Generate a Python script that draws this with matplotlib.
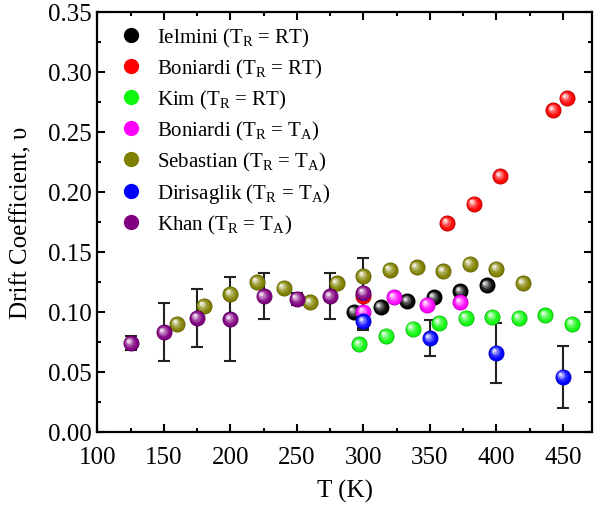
import numpy as np
import matplotlib
matplotlib.use('Agg')
import matplotlib.pyplot as plt
import matplotlib.colors as mcolors
from matplotlib.lines import Line2D
from matplotlib.transforms import offset_copy
from matplotlib.ticker import MultipleLocator, FormatStrFormatter

plt.rcParams['font.family'] = ['Liberation Serif', 'DejaVu Serif']
plt.rcParams['mathtext.fontset'] = 'custom'
plt.rcParams['mathtext.rm'] = 'Liberation Serif'

# data
ielmini_T = [293, 313, 333, 353, 373, 393]
ielmini_v = [0.100, 0.104, 0.109, 0.112, 0.117, 0.122]

boniardi_rt_T = [300, 363, 383, 403, 443, 453]
boniardi_rt_v = [0.113, 0.174, 0.190, 0.213, 0.268, 0.278]

kim_T = [297, 317, 337, 357, 377, 397, 417, 437, 457]
kim_v = [0.073, 0.080, 0.086, 0.091, 0.095, 0.096, 0.095, 0.097, 0.090]

boniardi_ta_T = [300, 323, 348, 373]
boniardi_ta_v = [0.100, 0.112, 0.106, 0.108]

sebastian_T = [160, 180, 200, 220, 240, 260, 280, 300, 320, 340, 360, 380, 400, 420]
sebastian_v = [0.090, 0.105, 0.115, 0.125, 0.120, 0.108, 0.124, 0.130, 0.135, 0.137,
               0.134, 0.140, 0.136, 0.124]

dirisaglik_T = [300, 350, 400, 450]
dirisaglik_v = [0.092, 0.078, 0.066, 0.046]
dirisaglik_err = [0.007, 0.015, 0.025, 0.026]

khan_T = [125, 150, 175, 200, 225, 250, 275, 300]
khan_v = [0.074, 0.083, 0.095, 0.094, 0.113, 0.111, 0.113, 0.116]
khan_err = [0.006, 0.024, 0.024, 0.035, 0.019, 0.005, 0.019, 0.029]

series = [
    ('Ielmini (T$_\\mathregular{R}$ = RT)', ielmini_T, ielmini_v, '#000000'),
    ('Boniardi (T$_\\mathregular{R}$ = RT)', boniardi_rt_T, boniardi_rt_v, '#ff0000'),
    ('Kim (T$_\\mathregular{R}$ = RT)', kim_T, kim_v, '#10f810'),
    ('Boniardi (T$_\\mathregular{R}$ = T$_\\mathregular{A}$)', boniardi_ta_T, boniardi_ta_v, '#ff00ff'),
    ('Sebastian (T$_\\mathregular{R}$ = T$_\\mathregular{A}$)', sebastian_T, sebastian_v, '#808000'),
    ('Dirisaglik (T$_\\mathregular{R}$ = T$_\\mathregular{A}$)', dirisaglik_T, dirisaglik_v, '#0000ff'),
    ('Khan (T$_\\mathregular{R}$ = T$_\\mathregular{A}$)', khan_T, khan_v, '#800080'),
]


def blend(c, other, f):
    c = np.array(mcolors.to_rgb(c))
    o = np.array(mcolors.to_rgb(other))
    return tuple(c * (1 - f) + o * f)


def draw_balls(ax, fig, x, y, color, d=11.5, z=3):
    # fake a shaded sphere with stacked circles
    ax.plot(x, y, 'o', ms=d, color=blend(color, 'black', 0.35), mew=0, zorder=z)
    n = 7
    for i in range(n):
        f = i / (n - 1)
        size = d * (0.92 - 0.72 * f)
        col = blend(color, 'white', 0.85 * f ** 1.6)
        tr = offset_copy(ax.transData, fig=fig, x=-d * 0.16 * f, y=d * 0.16 * f, units='points')
        ax.plot(x, y, 'o', ms=size, color=col, mew=0, zorder=z, transform=tr)


fig = plt.figure(figsize=(5.95, 5.06), dpi=100)
ax = fig.add_axes([0.1637, 0.1443, 0.995 - 0.1637, 0.975 - 0.1443])

ax.errorbar(dirisaglik_T, dirisaglik_v, yerr=dirisaglik_err, fmt='none', ecolor='#222222',
            elinewidth=1.5, capsize=4, capthick=1.5, zorder=2)
ax.errorbar(khan_T, khan_v, yerr=khan_err, fmt='none', ecolor='#222222',
            elinewidth=1.5, capsize=4, capthick=1.5, zorder=2)

handles = []
for i, (label, T, v, c) in enumerate(series):
    draw_balls(ax, fig, T, v, c, z=3 + i)
    handles.append(Line2D([], [], ls='none', marker='o', ms=11, color=c, mew=0, label=label))

ax.set_xlim(100, 472)
ax.set_ylim(0, 0.35)
ax.xaxis.set_major_locator(MultipleLocator(50))
ax.xaxis.set_minor_locator(MultipleLocator(25))
ax.yaxis.set_major_locator(MultipleLocator(0.05))
ax.yaxis.set_minor_locator(MultipleLocator(0.025))
ax.yaxis.set_major_formatter(FormatStrFormatter('%.2f'))

ax.tick_params(which='both', direction='in', top=True, right=True, width=1.5, labelsize=18)
ax.tick_params(which='major', length=6)
ax.tick_params(which='minor', length=3)
ax.tick_params(axis='x', pad=10)
ax.tick_params(axis='y', pad=4)
for s in ax.spines.values():
    s.set_linewidth(1.6)

ax.set_xlabel('T (K)', fontsize=18, labelpad=8)
ax.set_ylabel('Drift Coefficient, \u03c5', fontsize=18, labelpad=11)

ax.legend(handles=handles, loc='upper left', frameon=False, fontsize=15,
          handletextpad=0.35, labelspacing=0.38, borderaxespad=0.3,
          borderpad=0.4, handlelength=1.8)

fig.savefig('out.png', dpi=100)
